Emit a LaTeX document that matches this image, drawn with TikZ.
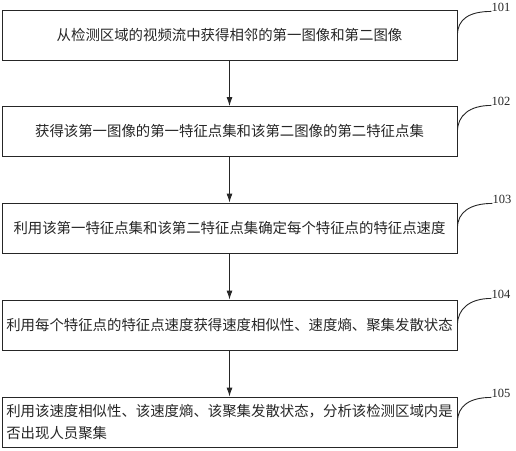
\documentclass[tikz,border=0pt]{standalone}
\usepackage{fontspec}
\setmainfont{Liberation Serif}
\newfontfamily\cjk{Noto Sans CJK SC}
\usetikzlibrary{arrows.meta}
\tikzset{
  stepbox/.style={draw=black!85, line width=0.9pt, minimum width=455pt, minimum height=50pt,
    inner sep=3pt, align=center, font=\cjk\fontsize{14.4}{22}\selectfont, text=black!85},
  tag/.style={inner sep=0pt, font=\fontsize{12.5}{14}\selectfont, text=black!85},
  lead/.style={draw=black!85, line width=0.9pt},
  >=Latex
}
\begin{document}
\begin{tikzpicture}[x=1pt, y=-1pt]
  \useasboundingbox (0,0) rectangle (516,450);
  \node[stepbox] (b1) at (229.5,35)  {从检测区域的视频流中获得相邻的第一图像和第二图像};
  \node[stepbox] (b2) at (229.5,131.5) {获得该第一图像的第一特征点集和该第二图像的第二特征点集};
  \node[stepbox] (b3) at (229.5,228) {利用该第一特征点集和该第二特征点集确定每个特征点的特征点速度};
  \node[stepbox] (b4) at (229.5,325) {利用每个特征点的特征点速度获得速度相似性、速度熵、聚集发散状态};
  \node[stepbox, align=left] (b5) at (229.5,422) {利用该速度相似性、该速度熵、该聚集发散状态，分析该检测区域内是\\否出现人员聚集};
  \node[tag] (t1) at (501,7)   {101};
  \node[tag] (t2) at (501,101) {102};
  \node[tag] (t3) at (502,199) {103};
  \node[tag] (t4) at (501,294) {104};
  \node[tag] (t5) at (501,393) {105};
  % flow
  \foreach \a/\b in {b1/b2, b2/b3, b3/b4, b4/b5}
    \draw[lead, -{Latex[length=9pt, width=6pt]}] (\a.south) -- (\b.north);
  % leaders
  \foreach \i in {1,...,5}
    \draw[lead] (b\i.east) .. controls +(0,-16) and +(-22,0) .. (t\i.south west);
\end{tikzpicture}
\end{document}
